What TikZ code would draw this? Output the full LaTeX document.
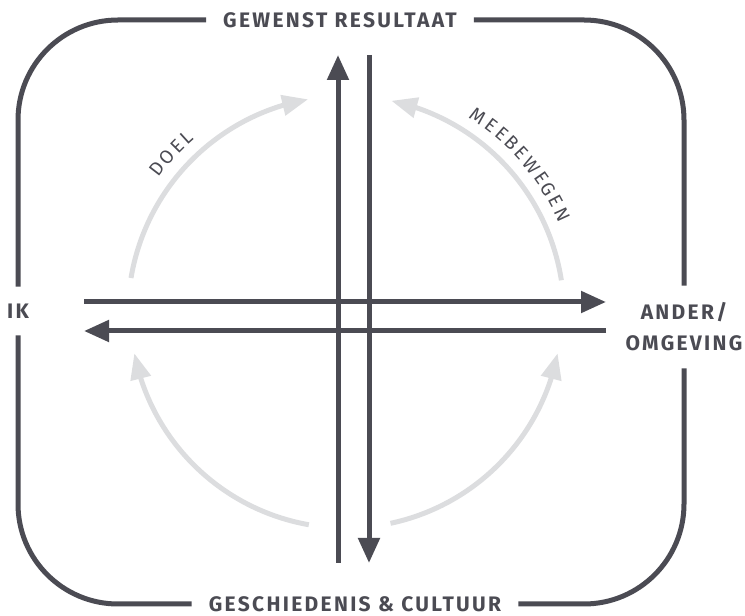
\documentclass[tikz,border=0pt]{standalone}
\usepackage{fontspec}
\setmainfont{Fira Sans}
\newfontfamily\kopfont[LetterSpace=11]{Fira Sans}
\newfontfamily\boogfont{Fira Sans}
\usetikzlibrary{arrows.meta,bending,calc}
\definecolor{donker}{HTML}{4B4B53}
\definecolor{licht}{HTML}{DCDDDF}
\begin{document}
\begin{tikzpicture}[x=1pt,y=1pt,line join=round,
		kop/.style={font=\kopfont\bfseries\fontsize{21}{31}\selectfont,text=donker,align=center,inner xsep=17pt,inner ysep=17pt},
		rand/.style={draw=donker,line width=5pt,rounded corners=100pt},
		pijl/.style={draw=donker,line width=5pt,-{Triangle[length=25pt,width=21pt]}},
		boog/.style={draw=licht,line width=5pt,-{Triangle[length=26pt,width=20pt,flex]}},
		letter/.style={font=\boogfont\fontsize{19}{19}\selectfont,text=donker,inner sep=0pt}]
		\useasboundingbox (0,0) rectangle (745,616);
		\node[kop] (res) at (340,596) {GEWENST RESULTAAT};
		\node[kop] (ges) at (355,12) {GESCHIEDENIS \& CULTUUR};
		\node[kop] (ik) at (18,305) {IK};
		\node[kop] (and) at (684,289) {ANDER/\\OMGEVING};
		\draw[rand] (res.east) -| (and.north);
		\draw[rand] (and.south) |- (ges.east);
		\draw[rand] (ges.west) -| (ik.south);
		\draw[rand] (ik.north) |- (res.west);
		\coordinate (mid) at (346,302);
		\coordinate (H1) at (84,314);
		\coordinate (H2) at (606,314);
		\coordinate (H3) at (606,285);
		\coordinate (H4) at (84,285);
		\coordinate (V1) at (338,53);
		\coordinate (V2) at (338,561);
		\coordinate (V3) at (369,561);
		\coordinate (V4) at (369,53);
		\draw[pijl] (H1) -- (H2);
		\draw[pijl] (H3) -- (H4);
		\draw[pijl] (V1) -- (V2);
		\draw[pijl] (V3) -- (V4);
		\draw[boog] (mid) ++(170.5:218) arc[start angle=170.5,end angle=100,radius=218];
		\draw[boog] (mid) ++(8.9:218) arc[start angle=8.9,end angle=78,radius=218];
		\draw[boog] (mid) ++(260:214) arc[start angle=260,end angle=191,radius=216];
		\draw[boog] (mid) ++(282:214) arc[start angle=282,end angle=349,radius=216];
		\foreach \l/\a [count=\i] in {D/142.4,O/138.7,E/135.2,L/132.2}
			\node[letter,rotate=\a-90] (doel\i) at ($(mid)+(\a:238)$) {\l};
		\foreach \l/\a [count=\i] in {M/56.4,E/52.4,E/49.1,B/45.9,E/42.6,W/38.6,E/34.8,G/31.6,E/28.3,N/24.8}
			\node[letter,rotate=\a-90] (mee\i) at ($(mid)+(\a:238)$) {\l};
	\end{tikzpicture}
\end{document}
